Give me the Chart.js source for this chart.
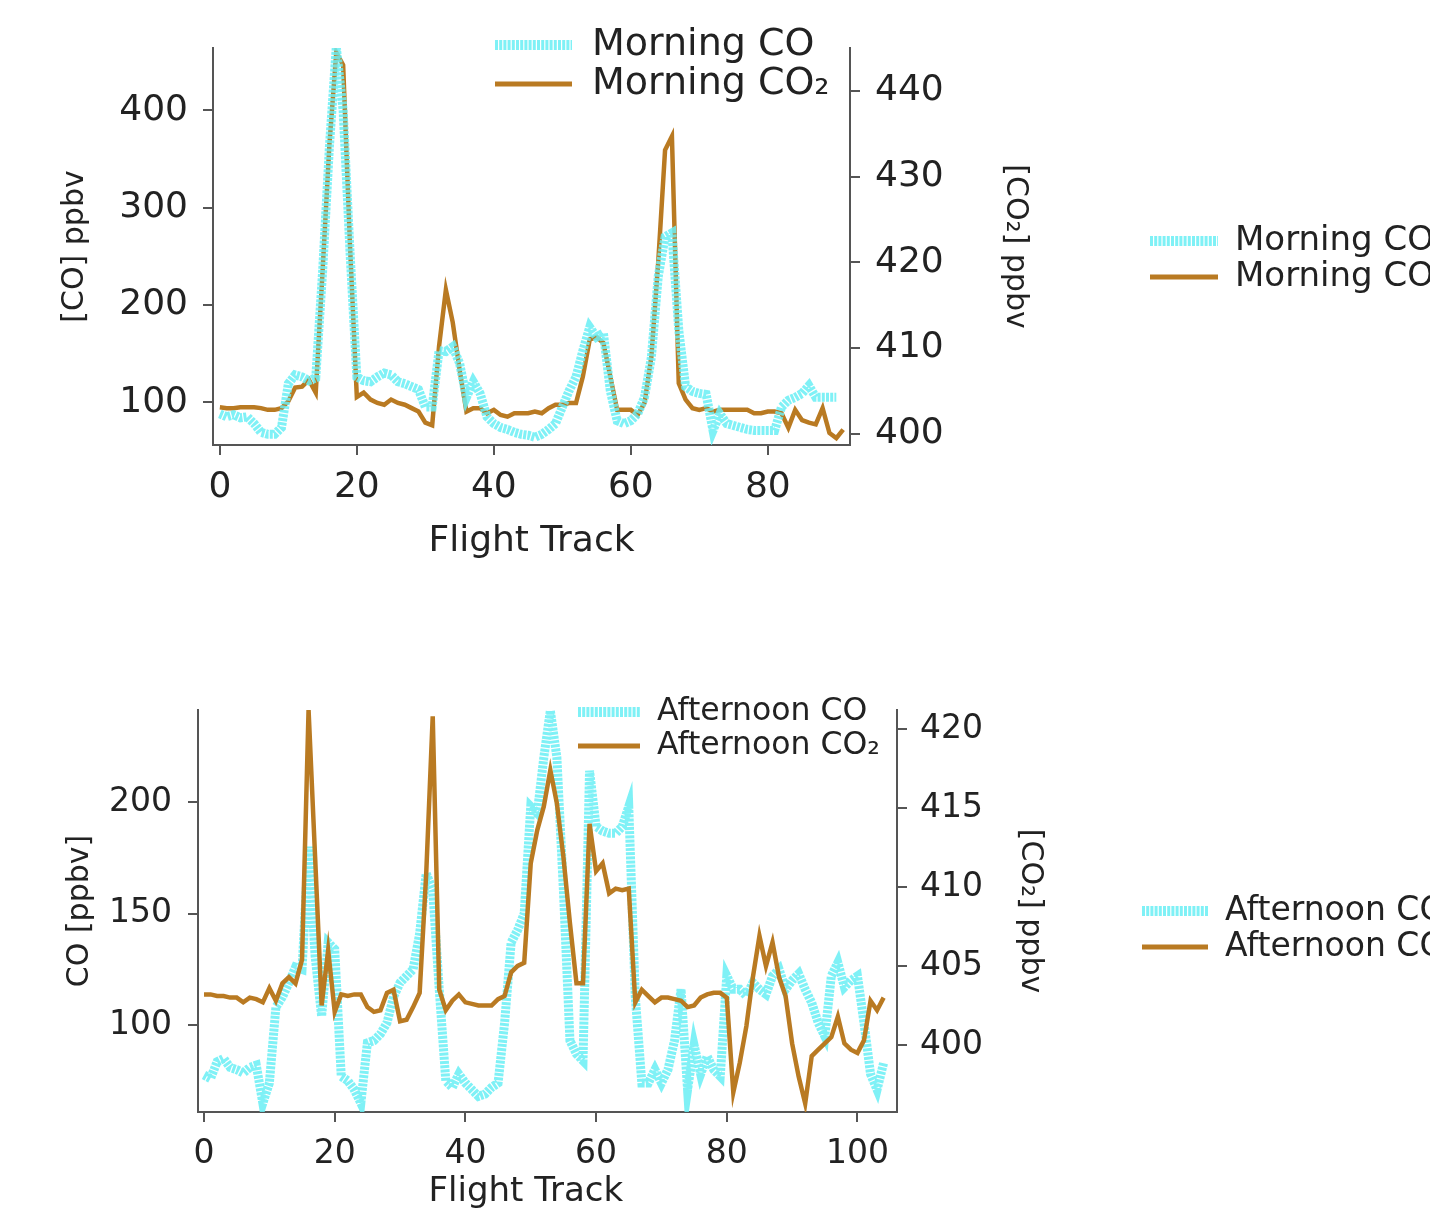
<!DOCTYPE html>
<html>
<head>
<meta charset="utf-8">
<script src="https://cdn.jsdelivr.net/npm/chart.js@4.4.1/dist/chart.umd.min.js"></script>
<style>
  html, body { margin: 0; padding: 0; background: #fff; }
  canvas { display: block; }
</style>
</head>
<body>
<canvas id="morningChart" width="1430" height="600"></canvas>
<canvas id="afternoonChart" width="1430" height="613"></canvas>
<script>
// 数据：按航迹点顺序读出
const morningCO = [
  88, 85, 87, 84, 85, 78, 69, 67, 67, 74,
  119, 128, 126, 122, 125, 234, 363, 465, 400, 255,
  126, 122, 121, 126, 130, 128, 121, 119, 116, 113,
  95, 95, 153, 152, 157, 140, 105, 121, 109, 85,
  78, 74, 72, 69, 67, 66, 64, 67, 72, 78,
  95, 112, 126, 153, 177, 167, 171, 112, 81, 78,
  81, 88, 105, 146, 229, 270, 274, 174, 116, 111,
  109, 108, 71, 88, 78, 76, 74, 72, 71, 71,
  71, 71, 95, 102, 105, 109, 117, 105, 105, 105,
  105
];
const morningCO2 = [
  403.1, 403, 403, 403.1, 403.1, 403.1, 403, 402.8, 402.8, 403,
  403.8, 405.4, 405.5, 406.3, 404.8, 419, 433.8, 444.5, 443, 422,
  404.3, 404.8, 404, 403.6, 403.4, 404, 403.6, 403.4, 403, 402.6,
  401.3, 401, 410.2, 416.8, 413, 407.5, 402.6, 403, 403, 402.4,
  402.8, 402.2, 402, 402.4, 402.4, 402.4, 402.6, 402.4, 403, 403.4,
  403.4, 403.6, 403.6, 406.7, 411, 411.3, 410.6, 406.7, 402.8, 402.8,
  402.8, 402.2, 403.6, 409, 420, 433.1, 434.7, 405.9, 404, 403,
  402.8, 403, 402.6, 402.8, 402.8, 402.8, 402.8, 402.8, 402.4, 402.4,
  402.6, 402.6, 402.4, 400.7, 402.8, 401.6, 401.3, 401.1, 403, 400.1,
  399.5, 400.5
];
const afternoonCO = [
  77.6, 76, 83.5, 85, 81, 80, 78.5, 81, 82, 65,
  74, 108, 112.6, 119, 126, 125, 180, 131, 104, 137,
  134, 77, 75, 71, 65, 92, 93, 96, 101, 112.6,
  119, 122, 125, 141, 168, 160.5, 116, 75, 72, 78,
  74, 71, 68, 69, 72, 74, 101, 137, 142.6, 150,
  198, 195, 220, 241, 220, 160.5, 93, 87, 84, 214,
  189, 187, 186, 186, 189, 198, 112.7, 74, 74, 80,
  74, 80, 93, 116, 71, 91, 78, 86, 80, 77,
  122, 116, 116, 113, 119, 116, 113.8, 122, 125, 116,
  120, 123, 116, 110, 101, 95, 122, 128, 117, 120,
  122, 101, 78, 71, 83
];
const afternoonCO2 = [
  403.2, 403.2, 403.1, 403.1, 403, 403, 402.7, 403, 402.9, 402.7,
  403.6, 402.8, 403.9, 404.3, 403.9, 405.4, 421.2, 411.9, 402.5, 406,
  402.1, 403.2, 403.1, 403.2, 403.2, 402.4, 402.1, 402.2, 403.3, 403.5,
  401.5, 401.6, 402.4, 403.3, 410.8, 420.8, 403.5, 402.2, 402.8, 403.2,
  402.7, 402.6, 402.5, 402.5, 402.5, 402.9, 403.1, 404.6, 405, 405.2,
  411.5, 413.6, 415.1, 417.4, 415.3, 411.9, 407.7, 403.9, 403.9, 414,
  411, 411.5, 409.6, 409.9, 409.8, 409.9, 402.7, 403.5, 403.1, 402.7,
  403, 403, 402.9, 402.8, 402.4, 402.5, 403, 403.2, 403.3, 403.3,
  403, 397, 398.9, 401.2, 404.3, 406.9, 405, 406.5, 404.3, 403.1,
  400.1, 398, 396.3, 399.3, 399.7, 400.1, 400.5, 401.8, 400.1, 399.7,
  399.5, 400.3, 402.8, 402.2, 403
];

// 刻度
const morningXTicks = [0, 20, 40, 60, 80];
const morningCOTicks = [100, 200, 300, 400];
const morningCO2Ticks = [400, 410, 420, 430, 440];
const afternoonXTicks = [0, 20, 40, 60, 80, 100];
const afternoonCOTicks = [100, 150, 200];
const afternoonCO2Ticks = [400, 405, 410, 415, 420];

const CYAN = 'rgba(105, 238, 244, 0.85)';
const BROWN = '#b97a22';
const INK = '#222';
const AXIS = '#555';
const FONT = 'DejaVu Sans';

function toPoints(values) {
    return values.map((v, i) => ({ x: i, y: v }));
}

function fixedTicks(values) {
    return scale => { scale.ticks = values.map(v => ({ value: v })); };
}

// 图例：图内一份，右侧一份
const legendBoxes = {
    id: 'legendBoxes',
    afterDraw(chart, args, opts) {
        const ctx = chart.ctx;
        (opts.boxes || []).forEach(b => {
            chart.data.datasets.forEach((ds, i) => {
                const y = b.y + i * b.rowH;
                ctx.save();
                ctx.strokeStyle = ds.borderColor;
                ctx.lineWidth = ds.legendWidth;
                ctx.setLineDash(ds.borderDash || []);
                ctx.beginPath();
                ctx.moveTo(b.x, y);
                ctx.lineTo(b.x + b.len, y);
                ctx.stroke();
                ctx.setLineDash([]);
                ctx.fillStyle = INK;
                ctx.font = b.size + 'px "' + FONT + '"';
                ctx.textBaseline = 'middle';
                ctx.fillText(ds.label, b.textX, y);
                ctx.restore();
            });
        });
    }
};

function axisLook(tickSize, tickPad) {
    return {
        grid: { drawOnChartArea: false, drawTicks: true, tickLength: 10, color: AXIS, lineWidth: 2 },
        border: { display: true, color: AXIS, width: 2 },
        ticks: { font: { family: FONT, size: tickSize }, color: INK, padding: tickPad }
    };
}

function makeChart(id, cfg) {
    const ctx = document.getElementById(id);
    return new Chart(ctx, {
        type: 'line',
        data: {
            datasets: [
                {
                    label: cfg.coLabel,
                    data: toPoints(cfg.co),
                    yAxisID: 'y',
                    borderColor: CYAN,
                    borderWidth: 9,
                    legendWidth: 10,
                    borderDash: [3, 1.2],
                    pointRadius: 0,
                    tension: 0,
                    order: cfg.coOrder
                },
                {
                    label: cfg.co2Label,
                    data: toPoints(cfg.co2),
                    yAxisID: 'y2',
                    borderColor: BROWN,
                    borderWidth: 4.5,
                    legendWidth: 5,
                    pointRadius: 0,
                    tension: 0,
                    order: cfg.co2Order
                }
            ]
        },
        options: {
            responsive: false,
            animation: false,
            layout: { padding: cfg.padding },
            plugins: {
                legend: { display: false },
                tooltip: { enabled: false },
                legendBoxes: { boxes: cfg.legends }
            },
            scales: {
                x: {
                    type: 'linear',
                    position: 'bottom',
                    min: cfg.xMin,
                    max: cfg.xMax,
                    afterBuildTicks: fixedTicks(cfg.xTicks),
                    afterFit: s => { s.height = cfg.xHeight; },
                    ...axisLook(cfg.tickSize, cfg.xTickPad),
                    title: {
                        display: true, text: cfg.xTitle, color: INK,
                        font: { family: FONT, size: cfg.xTitleSize },
                        padding: { top: 0, bottom: cfg.xTitlePad }
                    }
                },
                y: {
                    type: 'linear',
                    position: 'left',
                    min: cfg.coMin,
                    max: cfg.coMax,
                    afterBuildTicks: fixedTicks(cfg.coTicks),
                    afterFit: s => { s.width = cfg.leftWidth; },
                    ...axisLook(cfg.tickSize, cfg.leftTickPad),
                    title: {
                        display: true, text: cfg.coTitle, color: INK,
                        font: { family: FONT, size: 30 },
                        padding: { top: cfg.leftTitlePad, bottom: 0 }
                    }
                },
                y2: {
                    type: 'linear',
                    position: 'right',
                    min: cfg.co2Min,
                    max: cfg.co2Max,
                    afterBuildTicks: fixedTicks(cfg.co2Ticks),
                    afterFit: s => { s.width = cfg.rightWidth; },
                    ...axisLook(cfg.tickSize, cfg.rightTickPad),
                    title: {
                        display: true, text: '[CO₂] ppbv', color: INK,
                        font: { family: FONT, size: 30 },
                        padding: { top: cfg.rightTitlePad, bottom: 0 }
                    }
                }
            }
        },
        plugins: [legendBoxes]
    });
}

makeChart('morningChart', {
    coLabel: 'Morning CO', co2Label: 'Morning CO₂',
    co: morningCO, co2: morningCO2,
    coOrder: 0, co2Order: 1,
    coTitle: '[CO] ppbv',
    padding: { left: 0, right: 390, top: 48, bottom: 0 },
    xMin: -1, xMax: 92, xTicks: morningXTicks, xHeight: 155, xTickPad: 11,
    xTitle: 'Flight Track', xTitleSize: 36, xTitlePad: 37,
    coMin: 56, coMax: 464, coTicks: morningCOTicks,
    co2Min: 398.7, co2Max: 445, co2Ticks: morningCO2Ticks,
    tickSize: 36,
    leftWidth: 213, leftTickPad: 15, leftTitlePad: 57,
    rightWidth: 190, rightTickPad: 15, rightTitlePad: 7,
    legends: [
        { x: 495, y: 45, len: 77, rowH: 39, textX: 592, size: 38 },
        { x: 1150, y: 241, len: 68, rowH: 36, textX: 1235, size: 34 }
    ]
});

makeChart('afternoonChart', {
    coLabel: 'Afternoon CO', co2Label: 'Afternoon CO₂',
    co: afternoonCO, co2: afternoonCO2,
    coOrder: 1, co2Order: 0,
    coTitle: 'CO [ppbv]',
    padding: { left: 0, right: 373, top: 110, bottom: 0 },
    xMin: -0.92, xMax: 106.05, xTicks: afternoonXTicks, xHeight: 101, xTickPad: 13,
    xTitle: 'Flight Track    ', xTitleSize: 34, xTitlePad: 0,
    coMin: 61, coMax: 241.3, coTicks: afternoonCOTicks,
    co2Min: 395.76, co2Max: 421.2, co2Ticks: afternoonCO2Ticks,
    tickSize: 33,
    leftWidth: 198, leftTickPad: 16, leftTitlePad: 62,
    rightWidth: 160, rightTickPad: 13, rightTitlePad: 9,
    legends: [
        { x: 578, y: 112, len: 62, rowH: 34, textX: 657, size: 31.5 },
        { x: 1142, y: 311, len: 66, rowH: 36, textX: 1225, size: 33 }
    ]
});
</script>
</body>
</html>
